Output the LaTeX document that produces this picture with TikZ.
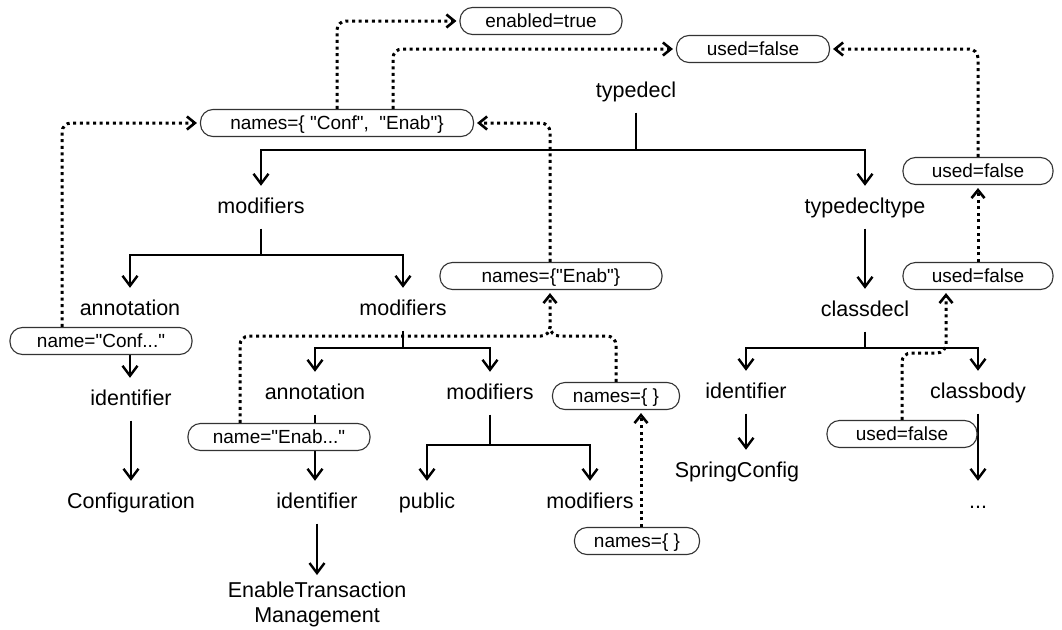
\documentclass[tikz,border=0pt]{standalone}
\usepackage{fontspec}
\setmainfont{Liberation Sans}[Ligatures=TeXOff]
\usetikzlibrary{arrows.meta}

\tikzset{
  lbl/.style={font=\fontsize{21.5pt}{25pt}\selectfont, text height=16pt, text depth=4.5pt,
    inner ysep=11pt, inner xsep=2pt, anchor=base},
  attr/.style={draw=black!80, line width=1.1pt, fill=white, rounded corners=12.5pt,
    minimum height=27pt, inner sep=0pt, text height=13.6pt, text depth=0pt,
    font=\fontsize{19pt}{22pt}\selectfont},
  edge/.style={line width=1.4pt},
  edgearr/.style={edge, -{Straight Barb[length=10pt,width=15pt,line width=2.4pt]}},
  flow/.style={line width=3pt, dash pattern=on 3pt off 3.6pt, rounded corners=9pt},
  flowarr/.style={flow, shorten >=3pt, -{Straight Barb[length=8pt,width=13pt,line width=2.6pt]}},
}

\begin{document}
\begin{tikzpicture}[x=1pt,y=-1pt]
\useasboundingbox (0,0) rectangle (1062,629);

% syntax tree nodes
\node[lbl] (typedecl) at (636,97) {typedecl};
\node[lbl] (mod1) at (261,213) {modifiers};
\node[lbl] (tdt) at (865,213) {typedecltype};
\node[lbl] (ann1) at (130,315) {annotation};
\node[lbl] (mod2) at (403,315) {modifiers};
\node[lbl] (cdecl) at (865,316) {classdecl};
\node[lbl] (id1) at (131,405) {identifier};
\node[lbl] (ann2) at (315,399) {annotation};
\node[lbl] (mod3) at (490,399) {modifiers};
\node[lbl] (id3) at (746,398) {identifier};
\node[lbl] (cbody) at (978,398) {classbody};
\node[lbl] (conf) at (131,508) {Configuration};
\node[lbl] (id2) at (317,508) {identifier};
\node[lbl] (pub) at (427,508) {public};
\node[lbl] (mod4) at (590,508) {modifiers};
\node[lbl] (spring) at (737,477) {SpringConfig};
\node[lbl] (more) at (978,508) {...};
\node[font=\fontsize{21.5pt}{25pt}\selectfont, align=center, anchor=north,
  inner ysep=7pt, inner xsep=0pt] (etm) at (317,575) {EnableTransaction\\Management};

% branch levels of the tree
\coordinate (b1) at (0,150);
\coordinate (b2) at (0,255);
\coordinate (b3) at (0,348);
\coordinate (b4) at (0,445);
\coordinate (b5) at (0,348);

% tree edges
\draw[edge] (typedecl.south) -- (typedecl.south |- b1);
\draw[edgearr] (typedecl.south |- b1) -| (mod1.north);
\draw[edgearr] (typedecl.south |- b1) -| (tdt.north);

\draw[edge] (mod1.south) -- (mod1.south |- b2);
\draw[edgearr] (mod1.south |- b2) -| (ann1.north);
\draw[edgearr] (mod1.south |- b2) -| (mod2.north);

\draw[edgearr] (ann1.south) -- (ann1.south |- id1.north);
\draw[edgearr] (id1.south) -- (id1.south |- conf.north);

\draw[edge] (mod2.south) -- (mod2.south |- b3);
\draw[edgearr] (mod2.south |- b3) -| (ann2.north);
\draw[edgearr] (mod2.south |- b3) -| (mod3.north);

\draw[edgearr] (ann2.south) -- (ann2.south |- id2.north);
\draw[edgearr] (id2.south) -- (id2.south |- etm.north);

\draw[edge] (mod3.south) -- (mod3.south |- b4);
\draw[edgearr] (mod3.south |- b4) -| (pub.north);
\draw[edgearr] (mod3.south |- b4) -| (mod4.north);

\draw[edgearr] (tdt.south) -- (tdt.south |- cdecl.north);
\draw[edge] (cdecl.south) -- (cdecl.south |- b5);
\draw[edgearr] (cdecl.south |- b5) -| (id3.north);
\draw[edgearr] (cdecl.south |- b5) -| (cbody.north);
\draw[edgearr] (id3.south) -- (id3.south |- spring.north);
\draw[edgearr] (cbody.south) -- (cbody.south |- more.north);

% attribute values
\node[attr, minimum width=162pt] (en) at (541,21) {enabled=true};
\node[attr, minimum width=153pt] (ufa) at (753,49) {used=false};
\node[attr, minimum width=273pt] (nms) at (337,123) {names=\{ "Conf",\hspace{0.55em}"Enab"\}};
\node[attr, minimum width=222pt] (nen) at (551,276) {names=\{"Enab"\}};
\node[attr, minimum width=182pt] (ncf) at (101,341) {name="Conf..."};
\node[attr, minimum width=182pt] (nea) at (279,437) {name="Enab..."};
\node[attr, minimum width=127pt] (ne1) at (616,396) {names=\{ \}};
\node[attr, minimum width=125pt] (ne2) at (637,541) {names=\{ \}};
\node[attr, minimum width=150pt] (ur1) at (978,171) {used=false};
\node[attr, minimum width=150pt] (ur2) at (978,276) {used=false};
\node[attr, minimum width=150pt] (ur3) at (902,434) {used=false};

% attribute flow
\coordinate (j7) at (946,353);
\coordinate (j8) at (550,336);
\draw[flowarr] ([xshift=-39pt]ncf.north) |- (nms.west);
\draw[flowarr] (nms.north) |- (en.west);
\draw[flowarr] ([xshift=56pt]nms.north) |- (ufa.west);
\draw[flowarr] ([xshift=-1pt]nen.north) |- (nms.east);
\draw[flowarr] (ur1.north) |- (ufa.east);
\draw[flowarr] (ur2.north) -- (ur1.south);
\draw[flowarr] (ur3.north) |- (j7) -- (j7 |- ur2.south);
\draw[flowarr] ([xshift=-39pt]nea.north) |- (j8) -- (j8 |- nen.south);
\draw[flow] (ne1.north) |- (j8) -- ([yshift=8pt]j8);
\draw[flowarr] ([xshift=4pt]ne2.north) -- ([xshift=4pt]ne2.north |- ne1.south);
\end{tikzpicture}
\end{document}
